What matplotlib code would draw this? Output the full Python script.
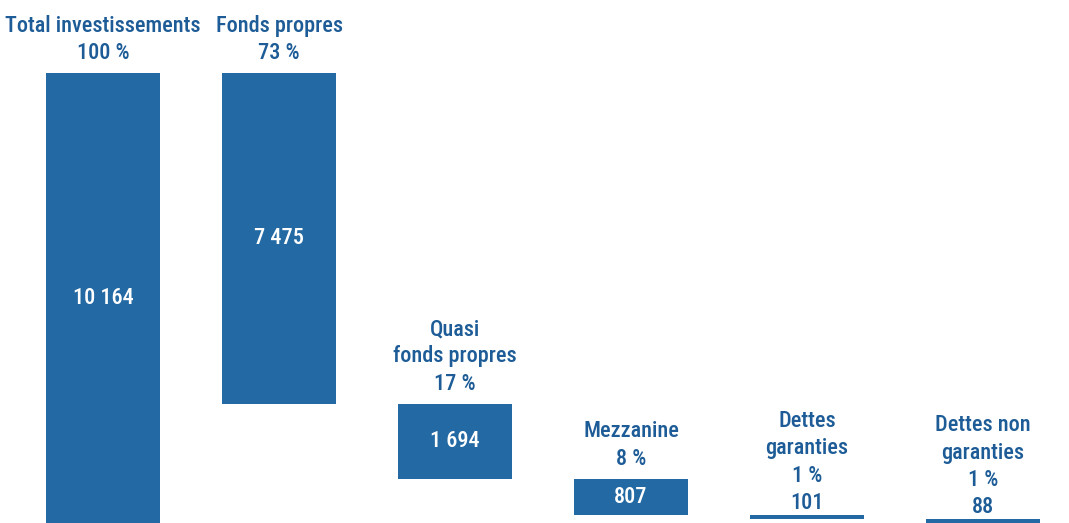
import matplotlib.pyplot as plt

# Répartition des investissements (montants)
categories = ["Total investissements", "Fonds propres", "Quasi\nfonds propres",
              "Mezzanine", "Dettes\ngaranties", "Dettes non\ngaranties"]
parts = ["100 %", "73 %", "17 %", "8 %", "1 %", "1 %"]
montants = [10164, 7475, 1694, 807, 101, 88]
value_labels = ["10 164", "7 475", "1 694", "807", "101", "88"]

bleu = "#2369a3"
texte = "#1d5c97"

plt.rcParams['font.family'] = ['Roboto Condensed', 'DejaVu Sans']

fig = plt.figure(figsize=(10.69, 5.23), dpi=100)
ax = fig.add_axes([0, 0, 1, 1 - 73 / 523])

# cascade : le total, puis chaque composante descend depuis le haut
tops, bottoms = [], []
niveau = montants[0]
for i, v in enumerate(montants):
    if i == 0:
        tops.append(v)
        bottoms.append(0)
    else:
        tops.append(niveau)
        bottoms.append(niveau - v)
        niveau -= v

xs = list(range(len(montants)))
hauteurs = [t - b for t, b in zip(tops, bottoms)]
ax.bar(xs, hauteurs, bottom=bottoms, width=0.648, color=bleu)

fs = 16
for x, t, b, v, lab, cat, p in zip(xs, tops, bottoms, montants, value_labels, categories, parts):
    if v > 500:
        # montant en blanc dans la barre, libellé au-dessus
        ax.text(x, (t + b) / 2, lab, ha='center', va='center', color='white',
                fontsize=fs, fontweight='medium')
        ax.annotate(cat + "\n" + p, (x, t), xytext=(0, 6.5), textcoords='offset points',
                    ha='center', va='bottom', color=texte, fontsize=fs,
                    fontweight='medium', linespacing=1.32, annotation_clip=False)
    else:
        # barre trop fine : montant sous le libellé, au-dessus de la barre
        ax.annotate(cat + "\n" + p + "\n" + lab, (x, t), xytext=(0, 0.5),
                    textcoords='offset points', ha='center', va='bottom',
                    color=texte, fontsize=fs, fontweight='medium', linespacing=1.32,
                    annotation_clip=False)

ax.set_xlim(-103 / 176, (1069 - 103) / 176)
ax.set_ylim(0, montants[0])
ax.axis('off')

fig.savefig("out.png", dpi=100)
